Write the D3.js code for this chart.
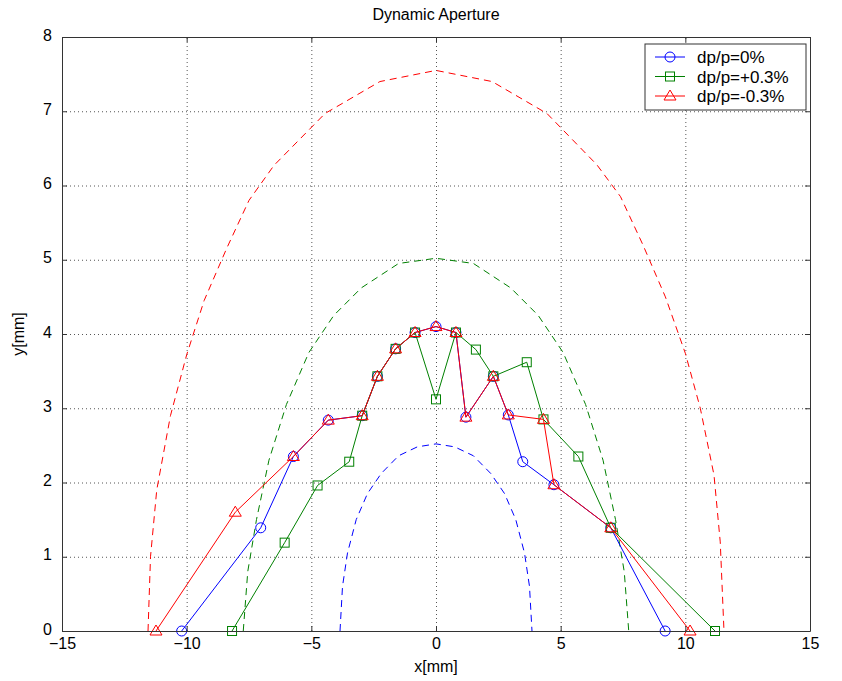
<!DOCTYPE html>
<html>
<head>
<meta charset="utf-8">
<script src="https://cdn.jsdelivr.net/npm/d3@7"></script>
<style>
  body { margin: 0; background: #fff; }
  svg text { font-family: "Liberation Sans", Arial, sans-serif; fill: #000; }
  .grid line { stroke: #555; stroke-dasharray: 1,3; stroke-width: 1; }
  .grid path { display: none; }
</style>
</head>
<body>
<div id="chart"></div>
<script>
// tracked particle limits
const seriesNames = ["dp/p=0%", "dp/p=+0.3%", "dp/p=-0.3%"];
const colors = ["#0000ff", "#008000", "#ff0000"];

const blueX = [-10.2, -7.03, -5.72, -4.32, -2.96, -2.35, -1.62, -0.84, 0, 0.80, 1.20, 2.30, 2.90, 3.48, 4.73, 7.01, 9.19];
const blueY = [0, 1.39, 2.35, 2.84, 2.90, 3.43, 3.80, 4.02, 4.10, 4.02, 2.88, 3.43, 2.91, 2.28, 1.97, 1.39, 0];

const greenX = [-8.18, -6.07, -4.75, -3.48, -2.96, -2.35, -1.62, -0.84, 0, 0.80, 1.60, 2.30, 3.64, 4.31, 5.71, 7.01, 11.19];
const greenY = [0, 1.19, 1.96, 2.28, 2.90, 3.43, 3.80, 4.02, 3.12, 4.02, 3.79, 3.43, 3.62, 2.85, 2.35, 1.39, 0];

const redX = [-11.23, -8.05, -5.72, -4.32, -2.96, -2.35, -1.62, -0.84, 0, 0.80, 1.20, 2.30, 2.90, 4.31, 4.73, 7.01, 10.19];
const redY = [0, 1.60, 2.35, 2.84, 2.90, 3.43, 3.80, 4.02, 4.10, 4.02, 2.88, 3.43, 2.91, 2.85, 1.97, 1.39, 0];

// dashed aperture outlines
const blueDashX = [-3.85, -3.75, -3.55, -3.2, -2.75, -2.2, -1.5, -0.75, 0, 0.75, 1.5, 2.2, 2.75, 3.2, 3.55, 3.75, 3.85];
const blueDashY = [0, 0.6, 1.05, 1.5, 1.85, 2.12, 2.36, 2.48, 2.52, 2.48, 2.36, 2.12, 1.85, 1.5, 1.05, 0.6, 0];

const greenDashX = [-7.73, -7.55, -7.2, -6.7, -6.0, -5.1, -4.1, -3.0, -1.5, 0, 1.5, 3.0, 4.1, 5.1, 6.0, 6.7, 7.2, 7.55, 7.73];
const greenDashY = [0, 0.8, 1.5, 2.3, 3.05, 3.75, 4.25, 4.62, 4.95, 5.02, 4.95, 4.62, 4.25, 3.75, 3.05, 2.3, 1.5, 0.8, 0];

const redDashX = [-11.55, -11.45, -11.2, -10.65, -10.0, -9.3, -8.4, -7.5, -6.5, -4.45, -2.25, 0, 2.25, 4.45, 6.45, 7.4, 8.3, 9.2, 10.0, 10.6, 11.15, 11.4, 11.55];
const redDashY = [0, 1.0, 1.9, 2.9, 3.72, 4.45, 5.15, 5.8, 6.27, 6.97, 7.40, 7.55, 7.40, 6.97, 6.28, 5.85, 5.2, 4.5, 3.74, 3.0, 2.1, 1.2, 0];

const xTicks = [-15, -10, -5, 0, 5, 10, 15];
const yTicks = [0, 1, 2, 3, 4, 5, 6, 7, 8];

const width = 842, height = 681;
const margin = { left: 62, right: 32, top: 37, bottom: 50 };

const svg = d3.select("#chart").append("svg")
  .attr("width", width)
  .attr("height", height);

const x = d3.scaleLinear().domain([-15, 15]).range([margin.left, width - margin.right]);
const y = d3.scaleLinear().domain([0, 8]).range([height - margin.bottom, margin.top]);

const plotW = x.range()[1] - x.range()[0];
const plotH = y.range()[0] - y.range()[1];

// grid
svg.append("g")
  .attr("class", "grid")
  .attr("transform", `translate(0,${y(0)})`)
  .call(d3.axisBottom(x).tickValues(xTicks.slice(1, -1)).tickSize(-plotH).tickFormat(""));
svg.append("g")
  .attr("class", "grid")
  .attr("transform", `translate(${x(-15)},0)`)
  .call(d3.axisLeft(y).tickValues(yTicks.slice(1, -1)).tickSize(-plotW).tickFormat(""));

// dashed outlines
const zip = (xs, ys) => xs.map((v, i) => [v, ys[i]]);
const line = d3.line().x(d => x(d[0])).y(d => y(d[1]));

[[blueDashX, blueDashY, colors[0]], [greenDashX, greenDashY, colors[1]], [redDashX, redDashY, colors[2]]]
  .forEach(([xs, ys, c]) => {
    svg.append("path")
      .datum(zip(xs, ys))
      .attr("d", line)
      .attr("fill", "none")
      .attr("stroke", c)
      .attr("stroke-width", 1)
      .attr("stroke-dasharray", "7,5");
  });

// markers
const drawMarker = (g, kind, cx, cy, c) => {
  if (kind === 0) {
    g.append("circle").attr("cx", cx).attr("cy", cy).attr("r", 5)
      .attr("fill", "none").attr("stroke", c);
  } else if (kind === 1) {
    g.append("rect").attr("x", cx - 4.5).attr("y", cy - 4.5).attr("width", 9).attr("height", 9)
      .attr("fill", "none").attr("stroke", c);
  } else {
    g.append("path").attr("d", `M${cx},${cy - 6}L${cx + 6},${cy + 4}L${cx - 6},${cy + 4}Z`)
      .attr("fill", "none").attr("stroke", c);
  }
};

const series = [[blueX, blueY], [greenX, greenY], [redX, redY]];
series.forEach(([xs, ys], k) => {
  const pts = zip(xs, ys);
  const g = svg.append("g");
  g.append("path")
    .datum(pts)
    .attr("d", line)
    .attr("fill", "none")
    .attr("stroke", colors[k])
    .attr("stroke-width", 1);
  pts.forEach(p => drawMarker(g, k, x(p[0]), y(p[1]), colors[k]));
});

// axes box, ticks pointing in
const axisStyle = g => {
  g.selectAll("path").attr("stroke", "#333");
  g.selectAll("line").attr("stroke", "#333");
  g.selectAll("text").style("font-size", "16px").attr("fill", "#000");
};

svg.append("g")
  .attr("transform", `translate(0,${y(0)})`)
  .call(d3.axisBottom(x).tickValues(xTicks).tickSize(-5).tickSizeOuter(0).tickPadding(7).tickFormat(d3.format("d")))
  .call(axisStyle);
svg.append("g")
  .attr("transform", `translate(0,${y(8)})`)
  .call(d3.axisTop(x).tickValues(xTicks).tickSize(-5).tickSizeOuter(0).tickFormat(""))
  .call(axisStyle);
svg.append("g")
  .attr("transform", `translate(${x(-15)},0)`)
  .call(d3.axisLeft(y).tickValues(yTicks).tickSize(-5).tickSizeOuter(0).tickPadding(10).tickFormat(d3.format("d")))
  .call(axisStyle)
  .call(g => g.selectAll("text").attr("dy", "0.2em"));
svg.append("g")
  .attr("transform", `translate(${x(15)},0)`)
  .call(d3.axisRight(y).tickValues(yTicks).tickSize(-5).tickSizeOuter(0).tickFormat(""))
  .call(axisStyle);

// titles
svg.append("text")
  .attr("x", x(0)).attr("y", 20)
  .attr("text-anchor", "middle")
  .style("font-size", "16px")
  .text("Dynamic Aperture");
svg.append("text")
  .attr("x", x(0)).attr("y", 672)
  .attr("text-anchor", "middle")
  .style("font-size", "16px")
  .text("x[mm]");
svg.append("text")
  .attr("transform", `translate(24,${y(4)}) rotate(-90)`)
  .attr("text-anchor", "middle")
  .style("font-size", "16px")
  .text("y[mm]");

// legend
const legend = svg.append("g").attr("transform", "translate(645,44)");
legend.append("rect")
  .attr("width", 161).attr("height", 66)
  .attr("fill", "#fff").attr("stroke", "#333");
seriesNames.forEach((name, k) => {
  const ry = 13 + k * 19.5;
  legend.append("line")
    .attr("x1", 10).attr("x2", 40).attr("y1", ry).attr("y2", ry)
    .attr("stroke", colors[k]);
  drawMarker(legend, k, 25, ry, colors[k]);
  legend.append("text")
    .attr("x", 52).attr("y", ry + 6)
    .style("font-size", "17px")
    .text(name);
});
</script>
</body>
</html>
